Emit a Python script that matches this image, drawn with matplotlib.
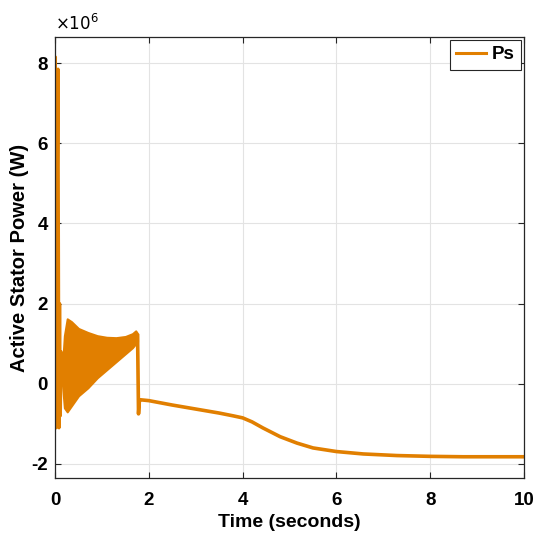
import matplotlib.pyplot as plt
import numpy as np

# values in units of 1e6 W
# initial start-up transient (single trace)
t_start = [0.0, 0.01, 0.025, 0.04, 0.065, 0.085, 0.1, 0.115, 0.13, 0.15]
p_start = [0.0, 8.15, -1.1, 3.0, 7.85, -1.1, 2.0, -0.8, 0.8, 0.2]

# fast oscillation band (upper / lower envelope of the trace)
t_band = [0.15, 0.2, 0.26, 0.35, 0.5, 0.7, 0.9, 1.1, 1.3, 1.5, 1.65, 1.72, 1.76]
p_upper = [0.3, 1.2, 1.62, 1.55, 1.38, 1.28, 1.2, 1.16, 1.15, 1.18, 1.25, 1.32, 1.25]
p_lower = [0.1, -0.6, -0.7, -0.55, -0.3, -0.1, 0.15, 0.35, 0.55, 0.75, 0.9, 1.0, 1.05]

# after the step at ~1.76 s
t_tail = [1.76, 1.78, 1.8, 1.83, 2.0, 2.5, 3.0, 3.5, 3.8, 4.0, 4.2, 4.43, 4.8,
          5.16, 5.5, 6.0, 6.57, 7.29, 8.0, 8.7, 9.3, 10.0]
p_tail = [1.2, -0.75, -0.4, -0.4, -0.42, -0.53, -0.63, -0.73, -0.8, -0.85, -0.95,
          -1.1, -1.32, -1.48, -1.6, -1.69, -1.75, -1.79, -1.81, -1.82, -1.82, -1.82]

color = '#E17F00'
plt.rcParams['font.family'] = ['Liberation Sans', 'DejaVu Sans']
plt.rcParams['axes.unicode_minus'] = False

fig = plt.figure(figsize=(5.42, 5.40), dpi=100)
ax = fig.add_axes([0.1015, 0.1148, 0.8655, 0.8167])

ax.plot(t_start, p_start, color=color, lw=2.2, label='Ps')
ax.fill_between(t_band, p_lower, p_upper, color=color, lw=1.5, edgecolor=color)
ax.plot(t_tail, p_tail, color=color, lw=2.6)

ax.set_xlim(0, 10)
ax.set_ylim(-2.35, 8.65)
ax.set_xticks([0, 2, 4, 6, 8, 10])
ax.set_yticks([-2, 0, 2, 4, 6, 8])
ax.grid(True, color='#e3e3e3', lw=0.8)
ax.set_axisbelow(True)
ax.tick_params(direction='in', top=True, right=True, length=4, width=0.8,
               color='#262626', labelsize=13.5)
ax.tick_params(axis='x', pad=10)
ax.tick_params(axis='y', pad=5)
for lab in ax.get_xticklabels() + ax.get_yticklabels():
    lab.set_fontweight('bold')
for s in ax.spines.values():
    s.set_color('#262626')
    s.set_linewidth(0.9)

ax.set_xlabel('Time (seconds)', fontsize=14, fontweight='bold', labelpad=4)
ax.set_ylabel('Active Stator Power (W)', fontsize=14.5, fontweight='bold', labelpad=2)
ax.text(0.0, 1.01, r'$\times10^{6}$', transform=ax.transAxes, fontsize=12,
        ha='left', va='bottom')

leg = ax.legend(loc='upper right', prop={'weight': 'bold', 'size': 13.5},
                handlelength=1.6, handletextpad=0.3, borderpad=0.35,
                fancybox=False, framealpha=1, borderaxespad=0.15)
leg.get_frame().set_edgecolor('#262626')
leg.get_frame().set_linewidth(0.8)

fig.savefig('out.png', dpi=100)
